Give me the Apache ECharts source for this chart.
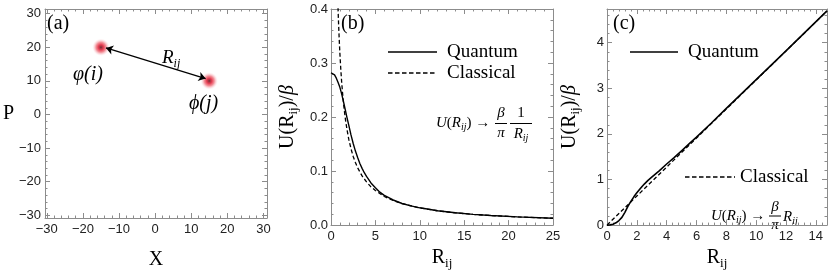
<!DOCTYPE html>
<html>
<head>
<meta charset="utf-8">
<script src="https://cdn.jsdelivr.net/npm/echarts@6/dist/echarts.min.js"></script>
<style>
html,body{margin:0;padding:0;background:#fff;}
#chart{width:830px;height:275px;}
</style>
</head>
<body>
<div id="chart"></div>
<script>
// ---------------- data ----------------
// Panel (a): phase-space points
const pointX = [-15, 15];
const pointP = [20, 10];
const arrowStart = [-13.6, 19.8];
const arrowEnd = [14.0, 10.7];

// Panel (b): U(R)/beta, Coulomb-like
const bR_quantum = [0, 0.2, 0.4, 0.6, 0.8, 1.0, 1.2, 1.4, 1.6, 1.8, 2.0, 2.25, 2.5, 2.75, 3, 3.25, 3.5, 3.75, 4, 4.5, 5, 5.5, 6, 7, 8, 9, 10, 12, 14, 16, 18, 21, 25];
const bQuantum = [0.282, 0.281, 0.278, 0.272, 0.264, 0.255, 0.243, 0.229, 0.214, 0.199, 0.185, 0.167, 0.151, 0.137, 0.125, 0.114, 0.105, 0.097, 0.090, 0.078, 0.069, 0.061, 0.055, 0.0465, 0.040, 0.0355, 0.032, 0.0266, 0.0228, 0.0199, 0.0177, 0.0152, 0.0128];
const bR_classical = [0.79, 0.82, 0.86, 0.9, 0.95, 1, 1.1, 1.2, 1.3, 1.4, 1.5, 1.65, 1.8, 2, 2.25, 2.5, 2.75, 3, 3.5, 4, 4.5, 5, 6, 7, 8, 10, 12, 14, 16, 18, 21, 25];
const bClassical = [0.403, 0.388, 0.370, 0.354, 0.335, 0.318, 0.289, 0.265, 0.245, 0.227, 0.212, 0.193, 0.177, 0.159, 0.1415, 0.127, 0.1157, 0.106, 0.091, 0.080, 0.0707, 0.064, 0.053, 0.0455, 0.0398, 0.0318, 0.0265, 0.0227, 0.0199, 0.0177, 0.0152, 0.0127];

// Panel (c): U(R)/beta, linear
const cR_quantum = [0, 0.2, 0.4, 0.6, 0.8, 1.0, 1.2, 1.4, 1.6, 1.8, 2.0, 2.25, 2.5, 2.75, 3, 3.5, 4, 4.5, 5, 5.5, 6, 7, 8, 10, 12, 14.75];
const cQuantum = [0, 0.005, 0.02, 0.05, 0.10, 0.17, 0.28, 0.41, 0.52, 0.62, 0.71, 0.81, 0.90, 0.98, 1.05, 1.19, 1.34, 1.48, 1.63, 1.78, 1.93, 2.24, 2.56, 3.19, 3.82, 4.70];
const cR_classical = [0, 2, 4, 6, 8, 10, 12, 14.75];
const cClassical = [0, 0.637, 1.273, 1.910, 2.546, 3.183, 3.820, 4.695];

// Tick labels
const aTicks = [-30, -20, -10, 0, 10, 20, 30];
const bXTicks = [0, 5, 10, 15, 20, 25];
const bYTicks = [0.0, 0.1, 0.2, 0.3, 0.4];
const cXTicks = [0, 2, 4, 6, 8, 10, 12, 14];
const cYTicks = [0, 1, 2, 3, 4];

// --------------- helpers ---------------
function steps(a, b, s) { const r = []; const n = Math.round((b - a) / s); for (let i = 0; i <= n; i++) r.push(+(a + i * s).toFixed(6)); return r; }
function minorOf(a, b, s, majors) { return steps(a, b, s).filter(v => !majors.some(m => Math.abs(m - v) < 1e-6)); }

const SERIF = 'Liberation Serif';
const SANS = 'Liberation Sans';
const FRAME = '#8c8c8c';
const TXT = '#222';

const nameRich = {
  n: { fontFamily: SERIF, fontSize: 20, color: '#000', lineHeight: 24 },
  g: { fontFamily: SERIF, fontSize: 20, fontStyle: 'italic', color: '#000', lineHeight: 24 },
  s: { fontFamily: SERIF, fontSize: 13, color: '#000', lineHeight: 13, verticalAlign: 'bottom' }
};

const xAxes = [], yAxes = [];
const mainIdx = [];

function frame(gi, cfg) {
  const mk = (isX, pos, majors, minors, withLabel) => {
    const base = { gridIndex: gi, type: 'value', min: isX ? cfg.xMin : cfg.yMin, max: isX ? cfg.xMax : cfg.yMax, position: pos, splitLine: { show: false } };
    const major = Object.assign({}, base, {
      axisLine: { show: true, onZero: false, lineStyle: { color: FRAME, width: 1 } },
      axisTick: { show: true, inside: true, length: 5, customValues: majors, lineStyle: { color: FRAME, width: 1 } },
      axisLabel: withLabel ? { show: true, customValues: majors, formatter: isX ? cfg.xFmt : cfg.yFmt, color: TXT, fontFamily: SANS, fontSize: 13, margin: isX ? 5 : cfg.yMargin } : { show: false }
    });
    if (withLabel) {
      major.name = isX ? cfg.xName : cfg.yName;
      major.nameLocation = 'middle';
      major.nameGap = isX ? cfg.xNameGap : cfg.yNameGap;
      if (!isX) major.nameRotate = cfg.yNameRotate;
      major.nameTextStyle = { fontFamily: SERIF, fontSize: 20, color: '#000', rich: nameRich };
    }
    const minor = Object.assign({}, base, {
      axisLine: { show: false, onZero: false },
      axisTick: { show: true, inside: true, length: 2.5, customValues: minors, lineStyle: { color: FRAME, width: 1 } },
      axisLabel: { show: false }
    });
    return [major, minor];
  };
  const xi = xAxes.length, yi = yAxes.length;
  xAxes.push(...mk(true, 'bottom', cfg.xMaj, cfg.xMinr, true));
  xAxes.push(...mk(true, 'top', cfg.xMaj, cfg.xMinr, false));
  yAxes.push(...mk(false, 'left', cfg.yMaj, cfg.yMinr, true));
  yAxes.push(...mk(false, 'right', cfg.yMaj, cfg.yMinr, false));
  mainIdx.push([xi, yi]);
}

const neg = v => (v < 0 ? '\u2212' + Math.abs(v) : String(v));

frame(0, {
  xMin: -30.5, xMax: 31, yMin: -30.8, yMax: 31.4,
  xMaj: aTicks, xMinr: minorOf(-30, 30, 2, aTicks),
  yMaj: aTicks, yMinr: minorOf(-30, 30, 2, aTicks),
  xFmt: neg, yFmt: neg, yMargin: 4,
  xName: '{n|X}', yName: '{n|P}', xNameGap: 30, yNameGap: 30, yNameRotate: 0
});
frame(1, {
  xMin: 0, xMax: 25, yMin: 0, yMax: 0.4,
  xMaj: bXTicks, xMinr: minorOf(0, 25, 1, bXTicks),
  yMaj: bYTicks, yMinr: minorOf(0, 0.4, 0.02, bYTicks),
  xFmt: v => String(v), yFmt: v => v.toFixed(1), yMargin: 3,
  xName: '{n|R}{s|ij}', yName: '{n|U(R}{s|ij}{n|)/}{g|β}', xNameGap: 18, yNameGap: 31, yNameRotate: 90
});
frame(2, {
  xMin: 0, xMax: 14.75, yMin: 0, yMax: 4.74,
  xMaj: cXTicks, xMinr: minorOf(0, 14.4, 0.4, cXTicks),
  yMaj: cYTicks, yMinr: minorOf(0, 4.6, 0.2, cYTicks),
  xFmt: v => String(v), yFmt: v => String(v), yMargin: 3,
  xName: '{n|R}{s|ij}', yName: '{n|U(R}{s|ij}{n|)/}{g|β}', xNameGap: 18, yNameGap: 25, yNameRotate: 90
});

const zip = (a, b) => a.map((v, i) => [v, b[i]]);
const lineBase = { type: 'line', showSymbol: false, symbol: 'none', smooth: false, clip: true, silent: true };

const series = [
  {
    type: 'scatter', xAxisIndex: mainIdx[0][0], yAxisIndex: mainIdx[0][1],
    data: zip(pointX, pointP), symbol: 'circle', symbolSize: 18, silent: true,
    itemStyle: {
      color: { type: 'radial', x: 0.5, y: 0.5, r: 0.5, colorStops: [
        { offset: 0, color: '#300000' },
        { offset: 0.1, color: '#8a0010' },
        { offset: 0.3, color: '#e0102a' },
        { offset: 0.55, color: 'rgba(232,55,70,0.7)' },
        { offset: 0.8, color: 'rgba(245,150,160,0.3)' },
        { offset: 1, color: 'rgba(255,255,255,0)' }
      ] }
    },
    markLine: {
      silent: true, symbol: ['arrow', 'arrow'], symbolSize: 7,
      label: { show: false },
      lineStyle: { color: '#000', width: 1.3, type: 'solid' },
      data: [[{ coord: arrowStart }, { coord: arrowEnd }]]
    }
  },
  Object.assign({}, lineBase, { name: 'Classical', xAxisIndex: mainIdx[1][0], yAxisIndex: mainIdx[1][1], data: zip(bR_classical, bClassical), lineStyle: { color: '#000', width: 1.3, type: [4, 2.5] } }),
  Object.assign({}, lineBase, { name: 'Quantum', xAxisIndex: mainIdx[1][0], yAxisIndex: mainIdx[1][1], data: zip(bR_quantum, bQuantum), lineStyle: { color: '#000', width: 1.4 } }),
  Object.assign({}, lineBase, { name: 'Classical', xAxisIndex: mainIdx[2][0], yAxisIndex: mainIdx[2][1], data: zip(cR_classical, cClassical), lineStyle: { color: '#000', width: 1.3, type: [4, 2.5] } }),
  Object.assign({}, lineBase, { name: 'Quantum', xAxisIndex: mainIdx[2][0], yAxisIndex: mainIdx[2][1], data: zip(cR_quantum, cQuantum), lineStyle: { color: '#000', width: 1.6 } })
];

// ---------- annotations ----------
const mkRich = (sz, sub) => ({
  i: { fontFamily: SERIF, fontStyle: 'italic', fontSize: sz, fill: '#000', lineHeight: sz + 4 },
  n: { fontFamily: SERIF, fontSize: sz, fill: '#000', lineHeight: sz + 4 },
  s: { fontFamily: SERIF, fontStyle: 'italic', fontSize: sub, fill: '#000', lineHeight: sub, verticalAlign: 'bottom' }
});
const T = (text, x, y, size, opts) => Object.assign({ type: 'text', x: x, y: y, silent: true, style: Object.assign({ text: text, fontFamily: SERIF, fontSize: size, fill: '#000', align: 'left', verticalAlign: 'middle' }, opts || {}) });
const L = (x1, y1, x2, y2, dash, w) => ({ type: 'line', silent: true, shape: { x1: x1, y1: y1, x2: x2, y2: y2 }, style: { stroke: '#000', lineWidth: w || 1.5, lineDash: dash || null } });
const RT = (text, x, y, sz, sub, align) => ({ type: 'text', x: x, y: y, silent: true, style: { text: text, rich: mkRich(sz, sub), align: align || 'left', verticalAlign: 'middle' } });

const graphic = [
  T('(a)', 47, 24, 20),
  T('(b)', 341, 24, 20),
  T('(c)', 613, 24, 20),
  RT('{i|R}{s|ij}', 162, 58, 19, 12),
  T('φ(i)', 73, 75, 20, { fontStyle: 'italic' }),
  T('ϕ(j)', 189, 104, 20, { fontStyle: 'italic' }),
  // legend (b)
  L(388, 52, 437, 52, null, 1.6), T('Quantum', 447, 52, 19),
  L(388, 73, 437, 73, [4.5, 2.5], 1.5), T('Classical', 447, 73, 19),
  // formula (b)
  RT('{i|U}{n|(}{i|R}{s|ij}{n|) →}', 436, 123, 15, 10),
  T('β', 501, 113, 15, { fontStyle: 'italic', align: 'center' }),
  L(495, 123.5, 507, 123.5, null, 1),
  T('π', 501, 133, 15, { fontStyle: 'italic', align: 'center' }),
  T('1', 521, 113, 15, { align: 'center' }),
  L(510, 123.5, 532, 123.5, null, 1),
  RT('{i|R}{s|ij}', 521, 134, 15, 10, 'center'),
  // legend (c)
  L(630, 52, 678, 52, null, 1.6), T('Quantum', 688, 52, 19),
  L(685, 177, 735, 177, [4.5, 2.5], 1.5), T('Classical', 740, 177, 19),
  // formula (c)
  RT('{i|U}{n|(}{i|R}{s|ij}{n|) →}', 711, 216, 15, 10),
  T('β', 775, 207, 15, { fontStyle: 'italic', align: 'center' }),
  L(769, 216, 781, 216, null, 1),
  T('π', 775, 225, 15, { fontStyle: 'italic', align: 'center' }),
  RT('{i|R}{s|ij}', 783, 217, 15, 10)
];

const chart = echarts.init(document.getElementById('chart'), null, { renderer: 'canvas' });
chart.setOption({
  animation: false,
  backgroundColor: '#fff',
  grid: [
    { left: 45, top: 9, width: 222, height: 221 },
    { left: 331, top: 9, width: 222, height: 221 },
    { left: 607, top: 9, width: 220, height: 221 }
  ],
  xAxis: xAxes,
  yAxis: yAxes,
  series: series,
  graphic: graphic
});
</script>
</body>
</html>
